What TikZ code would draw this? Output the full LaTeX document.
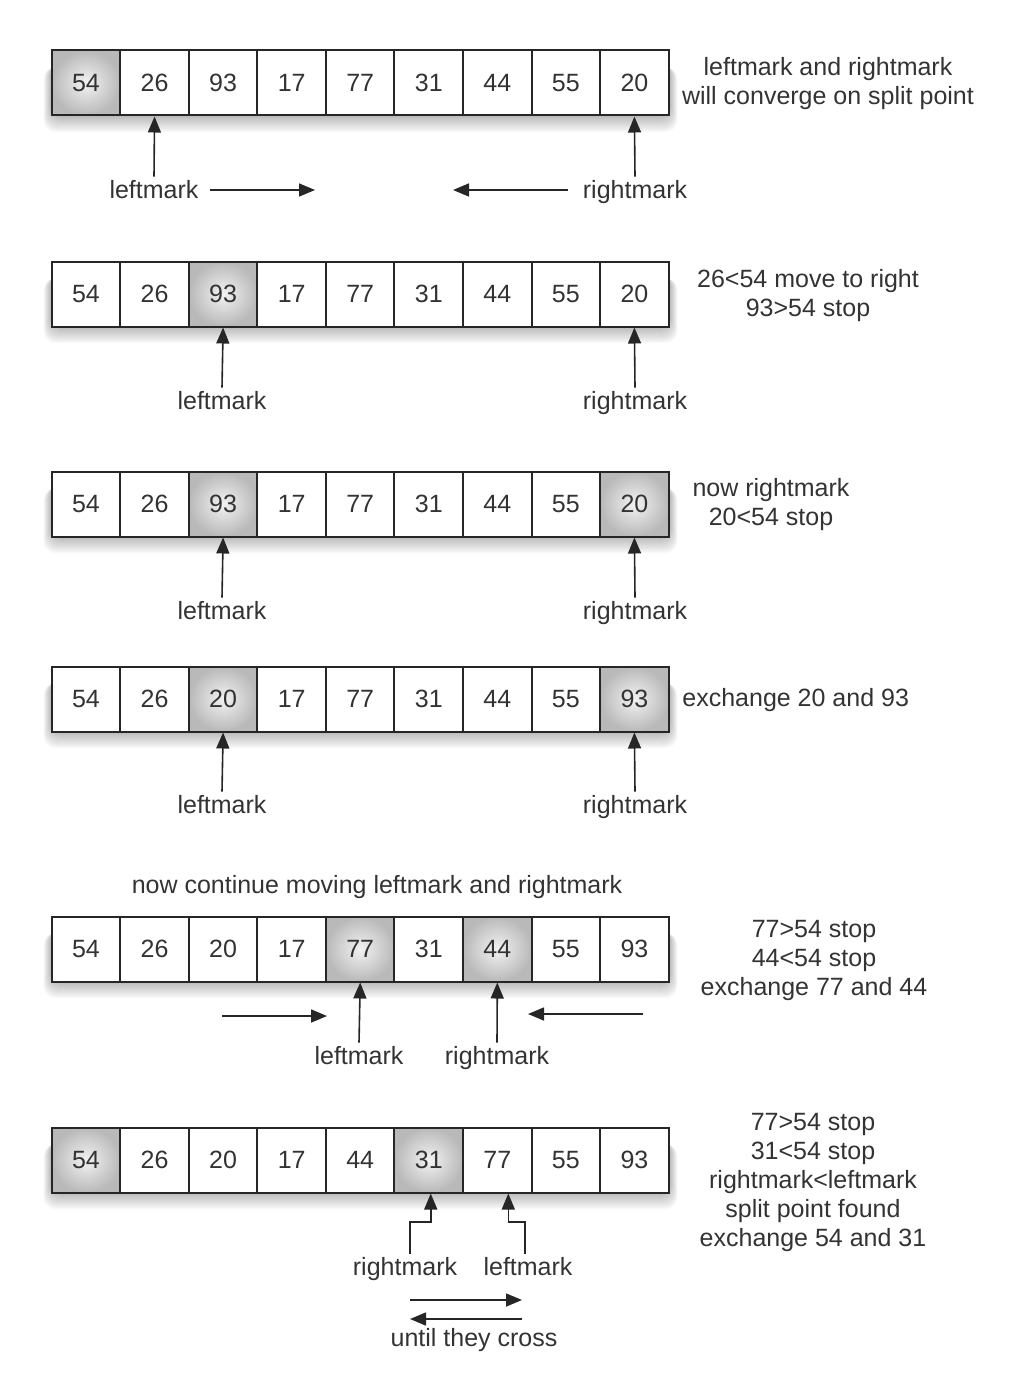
\documentclass[tikz,border=0pt]{standalone}
\usepackage{fontspec}
\setmainfont{Liberation Sans}
\usetikzlibrary{arrows.meta}
\definecolor{txt}{HTML}{333333}
\newcommand\arrrow[3]{%
  \foreach \k in {1,...,14}
    \fill[black,opacity=0.022,rounded corners=6] ({52-0.6*\k},{#2-20+0.3*\k}) rectangle ({669+0.6*\k},{#2+31+1.3*\k});
  \foreach \v/\s [count=\i from 0] in {#3}
    \node[cell, hlon=\s] (#1-\i) at ({86+68.55*\i},#2) {\v};
}
\begin{document}
\begin{tikzpicture}[x=0.5pt,y=-0.5pt,
  font=\fontsize{12.5}{14.5}\selectfont, text=txt,
  cell/.style={draw=black!85, line width=1pt, fill=white, minimum width=34.3pt,
    minimum height=32.5pt, inner sep=0pt},
  hl/.style={shade, shading=radial, inner color=gray!10, outer color=gray!55},
  hlon/.code={\ifnum#1=1 \pgfkeysalso{hl}\fi},
  lbl/.style={inner sep=1pt, anchor=base, text height=9.5pt, text depth=2.8pt},
  note/.style={align=center, inner sep=0pt},
  arr/.style={line width=0.8pt, draw=black!85, -{Triangle[length=8pt,width=6.5pt]}},
]
\useasboundingbox (0,0) rectangle (1010,1386);

% row 1
\arrrow{a}{83}{54/1,26/0,93/0,17/0,77/0,31/0,44/0,55/0,20/0}
\node[note] (n1) at (828,84) {leftmark and rightmark\\will converge on split point};
\node[lbl] (l1) at (154,198) {leftmark};
\node[lbl] (r1) at (635,198) {rightmark};
\draw[arr] (l1.north) -- (a-1.south);
\draw[arr] (r1.north) -- (a-8.south);
\coordinate (h1s) at (210,190); \coordinate (h1e) at (315,190);
\coordinate (h2s) at (568,190); \coordinate (h2e) at (453,190);
\draw[arr] (h1s) -- (h1e);
\draw[arr] (h2s) -- (h2e);

% row 2
\arrrow{b}{294}{54/0,26/0,93/1,17/0,77/0,31/0,44/0,55/0,20/0}
\node[note] (n2) at (808,296) {26<54 move to right\\93>54 stop};
\node[lbl] (l2) at (222,409) {leftmark};
\node[lbl] (r2) at (635,409) {rightmark};
\draw[arr] (l2.north) -- (b-2.south);
\draw[arr] (r2.north) -- (b-8.south);

% row 3
\arrrow{c}{504}{54/0,26/0,93/1,17/0,77/0,31/0,44/0,55/0,20/1}
\node[note] (n3) at (771,505) {now rightmark\\20<54 stop};
\node[lbl] (l3) at (222,619) {leftmark};
\node[lbl] (r3) at (635,619) {rightmark};
\draw[arr] (l3.north) -- (c-2.south);
\draw[arr] (r3.north) -- (c-8.south);

% row 4
\arrrow{d}{699}{54/0,26/0,20/1,17/0,77/0,31/0,44/0,55/0,93/1}
\node[note, anchor=west] (n4) at (682,700) {exchange 20 and 93};
\node[lbl] (l4) at (222,813) {leftmark};
\node[lbl] (r4) at (635,813) {rightmark};
\draw[arr] (l4.north) -- (d-2.south);
\draw[arr] (r4.north) -- (d-8.south);

% row 5
\node[note] (t5) at (377,887) {now continue moving leftmark and rightmark};
\arrrow{e}{949}{54/0,26/0,20/0,17/0,77/1,31/0,44/1,55/0,93/0}
\node[note] (n5) at (814,960) {77>54 stop\\44<54 stop\\exchange 77 and 44};
\node[lbl] (l5) at (359,1064) {leftmark};
\node[lbl] (r5) at (497,1064) {rightmark};
\draw[arr] (l5.north) -- (e-4.south);
\draw[arr] (r5.north) -- (e-6.south);
\coordinate (h3s) at (222,1016); \coordinate (h3e) at (327,1016);
\coordinate (h4s) at (643,1014); \coordinate (h4e) at (528,1014);
\draw[arr] (h3s) -- (h3e);
\draw[arr] (h4s) -- (h4e);

% row 6
\arrrow{f}{1160}{54/1,26/0,20/0,17/0,44/0,31/1,77/0,55/0,93/0}
\node[note] (n6) at (813,1182) {77>54 stop\\31<54 stop\\rightmark<leftmark\\split point found\\exchange 54 and 31};
\node[lbl] (r6) at (405,1275) {rightmark};
\node[lbl] (l6) at (528,1275) {leftmark};
\coordinate (b1) at (410,1222);
\coordinate (b2) at (525,1222);
\draw[arr] (r6.north -| b1) -- (b1) -| ([xshift=1pt]f-5.south);
\draw[arr] (l6.north -| b2) -- (b2) -| ([xshift=5.5pt]f-6.south);
\coordinate (h5s) at (410,1300); \coordinate (h5e) at (522,1300);
\coordinate (h6s) at (522,1319); \coordinate (h6e) at (410,1319);
\draw[arr] (h5s) -- (h5e);
\draw[arr] (h6s) -- (h6e);
\node[note] (t6) at (474,1340) {until they cross};
\end{tikzpicture}
\end{document}
